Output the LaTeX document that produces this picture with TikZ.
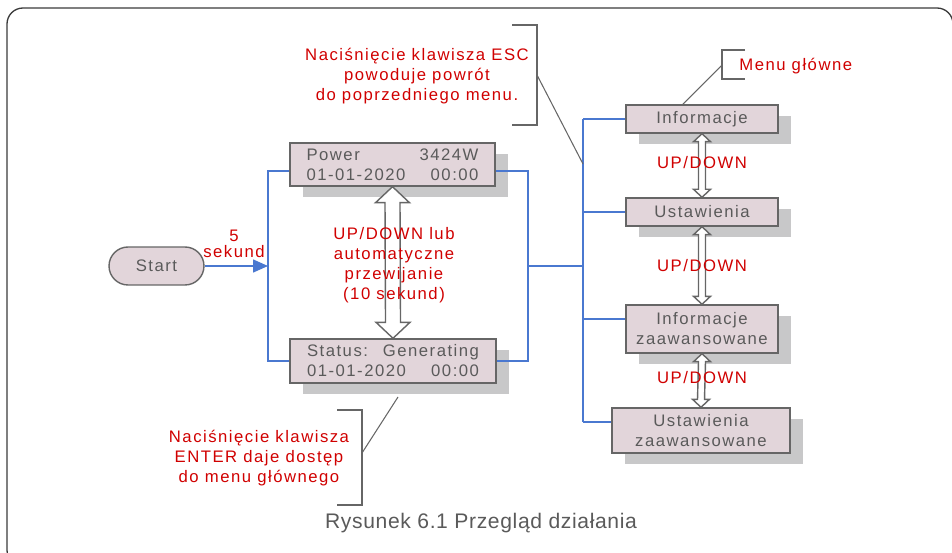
\documentclass[tikz,border=0pt]{standalone}
\usepackage{fontspec}
\setmainfont{Liberation Sans}[LetterSpace=9]
\newfontfamily\podpisfont{Liberation Sans}[LetterSpace=3]
\usepackage{tikz}
\usetikzlibrary{arrows.meta,positioning,calc,shadows}
\definecolor{Niebieski}{HTML}{4A78D0}
\definecolor{Czerwony}{HTML}{D00000}
\definecolor{Rozowy}{HTML}{E2D5DA}
\definecolor{Cien}{HTML}{C8C8C9}
\definecolor{Ramka}{HTML}{666666}
\definecolor{Tekst}{HTML}{5A5A5A}
\definecolor{Obrys}{HTML}{3A3A3A}
\newcommand{\rozmiar}{\fontsize{9.5pt}{11.4pt}\selectfont}
% podwojna pusta strzalka miedzy dwoma punktami (pol trzonu, pol grotu, dlugosc grotu)
\newcommand{\updown}[5]{%
  \draw[hollow] (#1) -- ($(#1)+(#4,#5)$) -- ($(#1)+(#3,#5)$)
    -- ($(#2)+(#3,-#5)$) -- ($(#2)+(#4,-#5)$) -- (#2)
    -- ($(#2)+(-#4,-#5)$) -- ($(#2)+(-#3,-#5)$)
    -- ($(#1)+(-#3,#5)$) -- ($(#1)+(-#4,#5)$) -- cycle;}

\begin{document}
\begin{tikzpicture}[
  x=0.02cm,y=-0.02cm,
  font=\rozmiar,
  >=Latex,
  screen/.style={draw=Ramka,line width=0.8pt,fill=Rozowy,text=Tekst,inner sep=0pt,
    drop shadow={shadow xshift=0.26cm,shadow yshift=-0.22cm,fill=Cien,opacity=1}},
  wire/.style={Niebieski,line width=0.85pt},
  mainwire/.style={Niebieski,line width=1.4pt},
  hollow/.style={draw=Ramka,line width=0.8pt,fill=white,line join=miter},
  note/.style={text=Czerwony,align=center,inner sep=0pt},
  brace/.style={draw=Ramka,line width=0.75pt},
  lead/.style={draw=Ramka,line width=0.6pt}
]
  \useasboundingbox (0,0) rectangle (952,553);
  \draw[Obrys,line width=0.75pt,rounded corners=0.32cm] (7,8) rectangle (953,566);

  % Ekrany glowne
  \node[draw=Ramka,line width=0.8pt,fill=Rozowy,text=Tekst,rounded corners=0.38cm,
    minimum width=1.9cm,minimum height=0.76cm] (start) at (156.5,266) {Start};
  \node[screen,minimum width=4.1cm,minimum height=0.86cm,text width=3.44cm,align=left]
    (p1) at (392.5,164.5) {Power\hfill 3424W\\01-01-2020\hfill 00:00};
  \node[screen,minimum width=4.12cm,minimum height=0.88cm,text width=3.44cm,align=left]
    (p2) at (393,361) {Status:\hfill Generating\\01-01-2020\hfill 00:00};

  % Menu glowne
  \node[screen,minimum width=3.04cm,minimum height=0.56cm] (m1) at (702,119) {Informacje};
  \node[screen,minimum width=3.04cm,minimum height=0.56cm] (m2) at (702,212) {Ustawienia};
  \node[screen,minimum width=3.04cm,minimum height=0.96cm,align=center]
    (m3) at (702,329) {Informacje\\zaawansowane};
  \node[screen,minimum width=3.56cm,minimum height=0.9cm,align=center]
    (m4) at (701,430.5) {Ustawienia\\zaawansowane};

  % Polaczenia
  \coordinate (lj) at (268,266);
  \coordinate (rj) at (528,266);
  \coordinate (bus) at (583,266);
  \coordinate (w3) at ([yshift=0.2cm]m3.west);
  \coordinate (w4) at ([yshift=0.17cm]m4.west);
  \draw[wire,-{Triangle[length=0.3cm,width=0.26cm]}] (start) -- (lj);
  \draw[wire] ([yshift=-0.13cm]p1.west) -| (lj) |- (p2.west);
  \draw[wire] ([yshift=-0.13cm]p1.east) -| (rj) |- (p2.east);
  \draw[wire] (rj) -- (bus);
  \draw[mainwire] (bus |- m1.west) -- (bus |- w4);
  \foreach \w in {m1.west,m2.west,w3,w4}
    {\draw[wire] (bus |- \w) -- (\w);}

  \updown{p1.south}{p2.north}{7.5}{17}{16}
  \updown{m1.south}{m2.north}{3.5}{8.5}{8}
  \updown{m2.south}{m3.north}{3.5}{8.5}{8}
  \updown{m3.south}{m4.north}{3.5}{8.5}{8}

  % Opisy
  \node[note] (sek) at (234,244) {5\\[-2.3pt]sekund};
  \node[note] (ud0) at (394,265) {UP/DOWN lub\\automatyczne\\przewijanie\\(10 sekund)};
  \node[note] (ud1) at (702,163) {UP/DOWN};
  \node[note] (ud2) at (702,266) {UP/DOWN};
  \node[note] (ud3) at (702,378) {UP/DOWN};

  \node[note] (esc) at (417,76)
    {Naciśnięcie klawisza ESC\\powoduje powrót\\do poprzedniego menu.};
  \draw[brace] (512,25) -| (537,125) -- (512,125);
  \coordinate (escb) at (537,75);
  \coordinate (escw) at (583,164);
  \draw[lead] (escb) -- (escw);

  \node[note,anchor=west] (glow) at (739,66) {Menu główne};
  \draw[brace] (745,50) -| (722,79) -- (745,79);
  \coordinate (glowb) at (722,65);
  \draw[lead] (glowb) -- ($(m1.north west)!0.375!(m1.north east)$);

  \node[note] (enter) at (259,458)
    {Naciśnięcie klawisza\\ENTER daje dostęp\\do menu głównego};
  \draw[brace] (337,410) -| (362,505) -- (337,505);
  \coordinate (enterb) at (362,453);
  \coordinate (entert) at (398,397);
  \draw[lead] (enterb) -- (entert);

  \node[font=\podpisfont\fontsize{12pt}{14pt}\selectfont,text=Tekst,inner sep=0pt]
    (podpis) at (481,523) {Rysunek 6.1 Przegląd działania};
\end{tikzpicture}
\end{document}
